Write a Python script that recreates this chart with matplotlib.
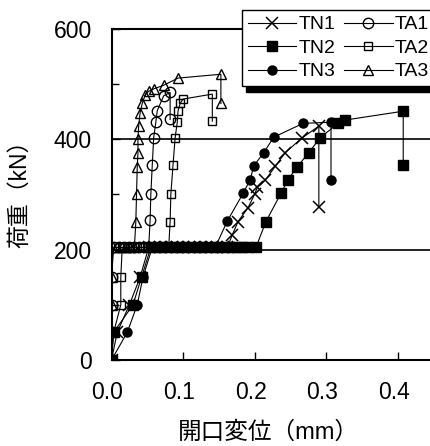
"""Load vs. opening displacement chart."""

import matplotlib
matplotlib.use("Agg")
import matplotlib.pyplot as plt
import matplotlib.transforms as mtransforms

plt.rcParams["font.family"] = ["Liberation Sans", "Noto Sans CJK JP"]

# opening displacement (mm) / load (kN)
tn1_x = [0.0, 0.008, 0.025, 0.040, 0.052, 0.060, 0.068, 0.076, 0.084, 0.092, 0.100, 0.108,
         0.116, 0.124, 0.132, 0.140, 0.148, 0.156, 0.162, 0.169, 0.177, 0.191, 0.200, 0.204,
         0.215, 0.229, 0.243, 0.266, 0.290, 0.290]
tn1_y = [0, 50, 100, 150, 204, 204, 204, 204, 204, 204, 204, 204,
         204, 204, 204, 204, 204, 204, 204, 227, 251, 276, 300, 313,
         326, 351, 376, 402, 424, 277]

tn2_x = [0.0, 0.003, 0.030, 0.042, 0.055, 0.063, 0.071, 0.079, 0.087, 0.095, 0.103, 0.111,
         0.119, 0.127, 0.135, 0.143, 0.151, 0.159, 0.167, 0.175, 0.183, 0.191, 0.202, 0.216,
         0.237, 0.247, 0.259, 0.276, 0.292, 0.317, 0.327, 0.408, 0.408]
tn2_y = [0, 50, 100, 150, 204, 204, 204, 204, 204, 204, 204, 204,
         204, 204, 204, 204, 204, 204, 204, 204, 204, 204, 204, 251,
         302, 327, 349, 376, 403, 429, 435, 451, 353]

tn3_x = [0.0, 0.022, 0.036, 0.044, 0.057, 0.065, 0.073, 0.081, 0.089, 0.097, 0.105, 0.113,
         0.121, 0.129, 0.137, 0.145, 0.162, 0.184, 0.194, 0.199, 0.213, 0.227, 0.268, 0.307,
         0.307]
tn3_y = [0, 50, 100, 150, 204, 204, 204, 204, 204, 204, 204, 204,
         204, 204, 204, 204, 252, 302, 327, 352, 376, 404, 429, 431,
         327]

ta1_x = [0.0, 0.0, 0.0, 0.0, 0.003, 0.010, 0.017, 0.024, 0.031, 0.038, 0.045, 0.052,
         0.054, 0.055, 0.057, 0.059, 0.062, 0.064, 0.073, 0.082, 0.082]
ta1_y = [0, 50, 100, 150, 204, 204, 204, 204, 204, 204, 204, 204,
         253, 300, 353, 403, 431, 452, 479, 485, 436]

ta2_x = [0.0, 0.003, 0.013, 0.013, 0.015, 0.022, 0.029, 0.036, 0.043, 0.050, 0.057, 0.064,
         0.071, 0.078, 0.080, 0.082, 0.083, 0.086, 0.089, 0.092, 0.093, 0.096, 0.100, 0.141,
         0.141]
ta2_y = [0, 50, 100, 150, 204, 204, 204, 204, 204, 204, 204, 204,
         204, 204, 204, 251, 300, 353, 403, 431, 451, 465, 473, 482,
         433]

ta3_x = [0.0, 0.0, 0.0, 0.0, 0.002, 0.008, 0.014, 0.020, 0.026, 0.032, 0.034, 0.035,
         0.036, 0.037, 0.037, 0.038, 0.040, 0.043, 0.047, 0.052, 0.060, 0.073, 0.093, 0.153,
         0.153]
ta3_y = [0, 50, 100, 150, 204, 204, 204, 204, 204, 204, 250, 300,
         350, 375, 400, 424, 448, 465, 480, 487, 492, 498, 511, 518,
         465]

fig = plt.figure(figsize=(4.3, 4.46), dpi=100)
ax = fig.add_axes([111.5 / 430, 86 / 446, 357.5 / 430, 331 / 446])

lw = 0.8
ax.plot(tn1_x, tn1_y, "k-", lw=lw, marker="x", ms=8, mew=1.1, label="TN1")
ax.plot(tn2_x, tn2_y, "k-", lw=lw, marker="s", ms=6.5, mfc="k", label="TN2")
ax.plot(tn3_x, tn3_y, "k-", lw=lw, marker="o", ms=6.5, mfc="k", label="TN3")
ax.plot(ta1_x, ta1_y, "k-", lw=lw, marker="o", ms=7.5, mfc="none", mew=1.0, label="TA1")
ax.plot(ta2_x, ta2_y, "k-", lw=lw, marker="s", ms=6, mfc="none", mew=1.0, label="TA2")
ax.plot(ta3_x, ta3_y, "k-", lw=lw, marker="^", ms=7.5, mfc="none", mew=1.0, label="TA3")

ax.set_xlim(0, 0.5)
ax.set_ylim(0, 600)
ax.set_xticks([0.0, 0.1, 0.2, 0.3, 0.4])
ax.set_xticklabels(["0.0", "0.1", "0.2", "0.3", "0.4"])
ax.set_yticks([0, 200, 400, 600])
ax.set_yticks([100, 300, 500], minor=True)
ax.tick_params(axis="both", which="both", direction="in", length=5.5, width=1.0,
               labelsize=16.5)
ax.tick_params(axis="y", which="major", pad=14)
ax.tick_params(axis="x", which="major", pad=15)
ax.tick_params(axis="y", which="minor", length=5)

# labels sit slightly left of the ticks
shift = mtransforms.ScaledTranslation(-4 / 100, 0, fig.dpi_scale_trans)
for lab in ax.get_xticklabels():
    lab.set_transform(lab.get_transform() + shift)

for y in (200, 400):
    ax.axhline(y, color="k", lw=1.2, zorder=0.5)

for side in ("left", "bottom", "top"):
    ax.spines[side].set_linewidth(1.5)

ax.set_xlabel("開口変位（mm）", fontsize=17)
ax.set_ylabel("荷重（kN）", fontsize=16.5)
ax.xaxis.set_label_coords(0.44, -0.185)
ax.yaxis.set_label_coords(-0.225, 0.52)

ax.legend(ncol=2, loc="upper left", bbox_to_anchor=(242 / 430, 1 - 10 / 446),
          bbox_transform=fig.transFigure, borderaxespad=0, fontsize=14,
          handlelength=2.5, handletextpad=0.1, columnspacing=0.45,
          labelspacing=0.3, borderpad=0.3, fancybox=False, framealpha=1,
          edgecolor="k", shadow={"ox": 3, "oy": -4, "color": "k", "alpha": 1})

fig.savefig("out.png", dpi=100)
